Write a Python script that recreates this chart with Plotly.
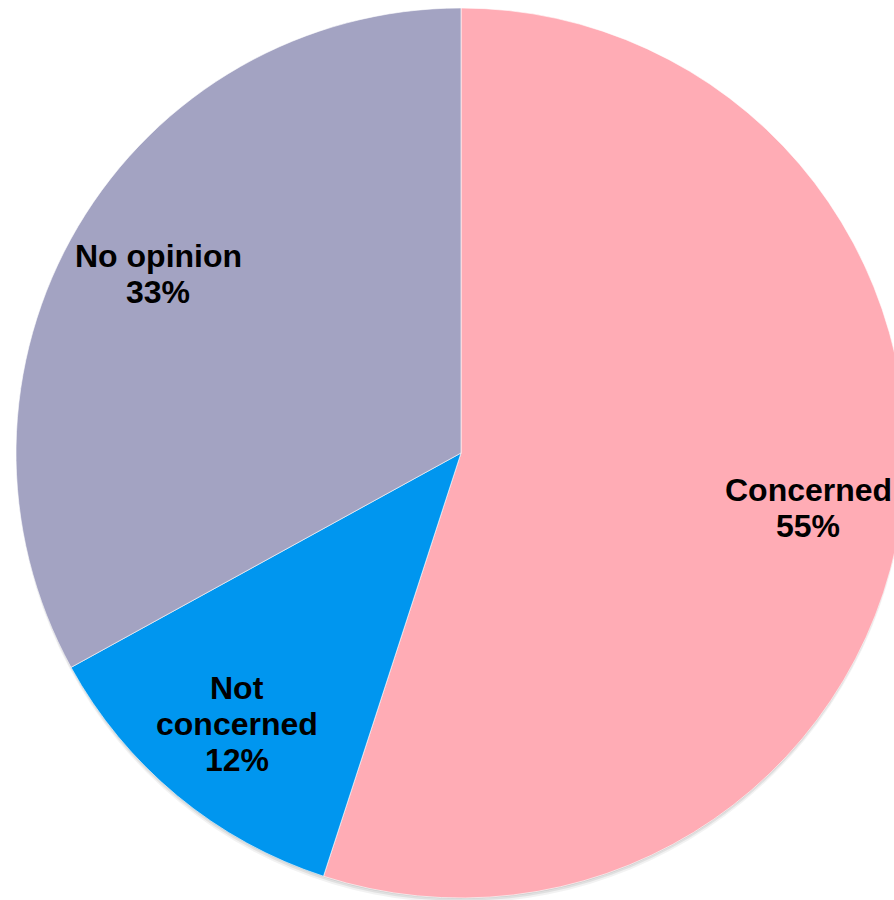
import math
import plotly.graph_objects as go

labels = ["Concerned", "Not<br>concerned", "No opinion"]
values = [55, 12, 33]
colors = ["#FFACB5", "#0096EF", "#A3A3C2"]

W, H = 920, 912
cx, cy, r = 461, 453, 445
label_radius = 0.79
line_gap = 36
font = dict(family="Liberation Sans, Arial, sans-serif", size=32, color="black", weight="bold")


def dom(x0, y0, rad):
    return dict(x=[(x0 - rad) / W, (x0 + rad) / W], y=[1 - (y0 + rad) / H, 1 - (y0 - rad) / H])


fig = go.Figure()

# soft drop shadow under the pie
for shift, alpha in [(6, 0.05), (4, 0.07), (2, 0.09)]:
    fig.add_trace(go.Pie(
        labels=["shadow"], values=[sum(values)],
        marker=dict(colors=[f"rgba(0,0,0,{alpha})"], line=dict(width=0)),
        textinfo="none", hoverinfo="skip", showlegend=False, sort=False,
        domain=dom(cx, cy + shift, r - 1),
    ))

fig.add_trace(go.Pie(
    labels=labels,
    values=values,
    sort=False,
    direction="clockwise",
    rotation=0,
    marker=dict(colors=colors, line=dict(width=1, color="rgba(255,255,255,0.6)")),
    textinfo="none",
    hoverinfo="label+value",
    showlegend=False,
    domain=dom(cx, cy, r),
))

total = sum(values)
cum = 0
for lab, v in zip(labels, values):
    mid = (cum + v / 2) / total * 2 * math.pi
    cum += v
    px = cx + label_radius * r * math.sin(mid)
    py = cy - label_radius * r * math.cos(mid)
    lines = lab.split("<br>") + [f"{v}%"]
    n = len(lines)
    for i, t in enumerate(lines):
        off = ((n - 1) / 2 - i) * line_gap
        fig.add_annotation(
            x=px / W, y=1 - py / H, xref="paper", yref="paper",
            text=t, showarrow=False, font=font,
            xanchor="center", yanchor="middle", yshift=off,
        )

fig.update_layout(
    width=W, height=H,
    margin=dict(l=0, r=0, t=0, b=0),
    paper_bgcolor="white",
    plot_bgcolor="white",
)

fig.write_html(
    "out.html",
    config={"displayModeBar": False},
    post_script="document.body.style.margin='0';document.body.style.overflow='hidden';",
)
